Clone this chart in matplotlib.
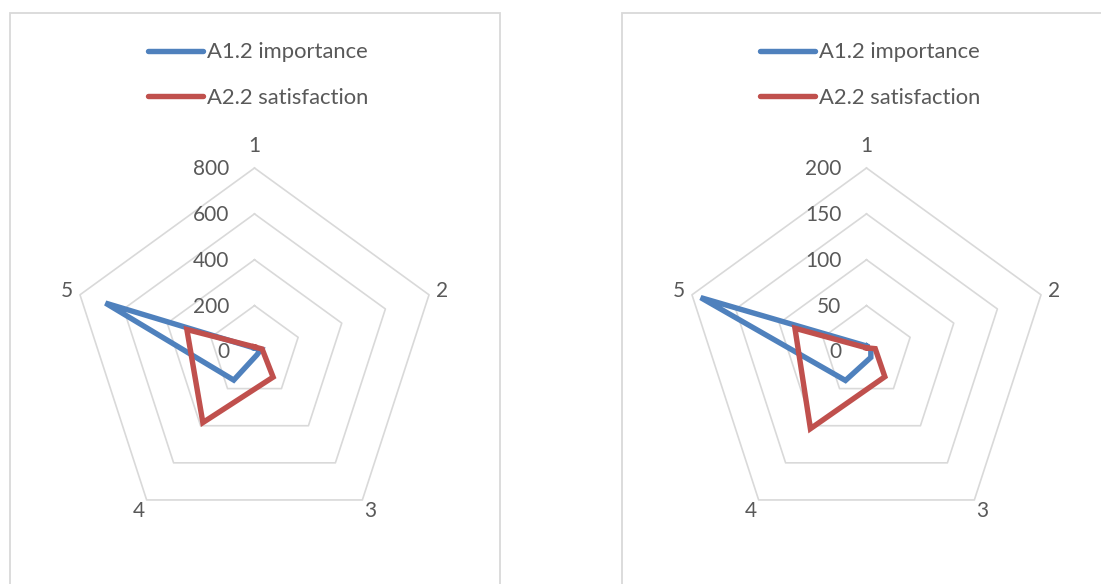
import numpy as np
import matplotlib.pyplot as plt
from matplotlib.patches import Rectangle
from matplotlib.lines import Line2D
from matplotlib.transforms import offset_copy

plt.rcParams['font.family'] = ['Lato', 'DejaVu Sans']

categories = ['1', '2', '3', '4', '5']
series_names = ['A1.2 importance', 'A2.2 satisfaction']
series_colors = ['#4f81bd', '#c0504d']

left_importance = [15, 30, 18, 154, 683]
left_satisfaction = [20, 35, 138, 383, 310]
left_ticks = [0, 200, 400, 600, 800]

right_importance = [6, 5, 8, 39, 190]
right_satisfaction = [4, 10, 34, 104, 82]
right_ticks = [0, 50, 100, 150, 200]

W, H = 1101, 584
TXT = '#595959'
GRID = '#d9d9d9'

fig = plt.figure(figsize=(W / 100, H / 100), dpi=100)


def radar(cx, cy, ticks, values_list):
    R = 183.5
    ax = fig.add_axes([(cx - R) / W, (H - cy - R) / H, 2 * R / W, 2 * R / H],
                      projection='polar')
    ax.set_theta_offset(np.pi / 2)
    ax.set_theta_direction(-1)
    rmax = ticks[-1]
    ax.set_ylim(0, rmax)
    ax.axis('off')
    theta = np.arange(len(categories)) * 2 * np.pi / len(categories)
    tc = np.append(theta, theta[0])

    for t in ticks[1:]:
        ax.plot(tc, [t] * len(tc), color=GRID, lw=1.2, zorder=1, clip_on=False)

    for vals, col in zip(values_list, series_colors):
        ax.plot(tc, list(vals) + [vals[0]], color=col, lw=3.9, zorder=3,
                solid_joinstyle='miter', clip_on=False)

    lab_tr = offset_copy(ax.transData, fig=fig, x=-25, y=-1, units='dots')
    for t in ticks:
        ax.text(0, t, str(t), transform=lab_tr, ha='right', va='center',
                fontsize=15, color=TXT, zorder=4)

    px = rmax / R
    for i, name in enumerate(categories):
        dist = 206 if i == 0 else 197
        ax.text(theta[i], dist * px, name, ha='center', va='center',
                fontsize=15, color=TXT, clip_on=False)

    # legend
    for j, name in enumerate(series_names):
        ly = H - (51 + 45 * j)
        fig.add_artist(Line2D([(cx - 106.5) / W, (cx - 51.5) / W], [ly / H, ly / H],
                              color=series_colors[j], lw=3.9,
                              solid_capstyle='round'))
        fig.text((cx - 47.5) / W, (ly - 1.5) / H, name, ha='left', va='center',
                 fontsize=15.8, color=TXT)


# panel borders
for x0 in (10, 622):
    fig.add_artist(Rectangle((x0 / W, -0.1), 490 / W, 1.1 - 13 / H,
                             transform=fig.transFigure, fill=False,
                             edgecolor=GRID, lw=1.3))

radar(254.5, 351.5, left_ticks, [left_importance, left_satisfaction])
radar(866.5, 351.5, right_ticks, [right_importance, right_satisfaction])

fig.savefig('out.png', dpi=100)
